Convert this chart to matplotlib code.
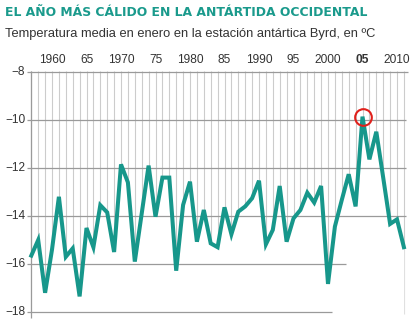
import matplotlib
matplotlib.use("Agg")
import matplotlib.pyplot as plt
import numpy as np

years = list(range(1957, 2012))
temps = [-15.65, -15.0, -17.2, -15.4, -13.2, -15.7, -15.35, -17.35, -14.5, -15.3,
         -13.55, -13.85, -15.5, -11.85, -12.6, -15.9, -13.9, -11.9, -14.03, -12.4,
         -12.4, -16.28, -13.54, -12.57, -15.07, -13.75, -15.14, -15.3, -13.64, -14.76,
         -13.82, -13.6, -13.26, -12.53, -15.18, -14.58, -12.75, -15.07, -14.1, -13.75,
         -13.03, -13.44, -12.75, -16.83, -14.44, -13.33, -12.26, -13.6, -9.86, -11.64,
         -10.49, -12.4, -14.33, -14.14, -15.3]
tick_years = [1960, 1965, 1970, 1975, 1980, 1985, 1990, 1995, 2000, 2005, 2010]
tick_labels = ["1960", "65", "1970", "75", "1980", "85", "1990", "95", "2000", "05", "2010"]
y_ticks = [-8, -10, -12, -14, -16, -18]
y_labels = ["\u22128", "\u221210", "\u221212", "\u221214", "\u221216", "\u221218"]
highlight_year = 2005

# grid line right ends (years) per level
hline_ends = {-8: 2011.6, -10: 2011.3, -12: 2011.3, -14: 2011.3, -16: 2002.6, -18: 2000.6}

W, H = 414, 325
fig = plt.figure(figsize=(W / 100, H / 100), dpi=100)

# pixel geometry
px_per_year = 6.9
x1960 = 52
ax_left_px, ax_right_px = 22, 412
ax_top_px, ax_bot_px = 62, 320
ypx_m8 = 72
px_per_deg = 24

xmin = 1960 + (ax_left_px - x1960) / px_per_year
xmax = 1960 + (ax_right_px - x1960) / px_per_year
ymax = -8 + (ypx_m8 - ax_top_px) / px_per_deg
ymin = -8 - (ax_bot_px - ypx_m8) / px_per_deg

ax = fig.add_axes([ax_left_px / W, (H - ax_bot_px) / H,
                   (ax_right_px - ax_left_px) / W, (ax_bot_px - ax_top_px) / H])
ax.set_xlim(xmin, xmax)
ax.set_ylim(ymin, ymax)
ax.axis("off")

teal = "#17978b"

# vertical grid (one per year)
ax.vlines(years, -18.1, -7.95, color="#cccccc", lw=0.8, zorder=1)
# white fill below line hides vertical grid
ax.fill_between(years, temps, ymin, color="white", zorder=2, lw=0)
# horizontal grid
for lvl in y_ticks:
    ax.hlines(lvl, 1956.4, hline_ends[lvl], color="#9a9a9a", lw=0.9, zorder=3)
# left axis line
ax.vlines(years[0], -18.25, -7.95, color="#9a9a9a", lw=0.9, zorder=3)

# data line
ax.plot(years, temps, color=teal, lw=2.9, solid_joinstyle="miter", zorder=4)

# highlight circle
hv = temps[years.index(highlight_year)]
ax.plot([highlight_year], [hv], marker="o", ms=12, mfc="none", mec="#e0201b", mew=1.5, zorder=5)

# tick labels
for ty, tl in zip(tick_years, tick_labels):
    ax.text(ty, -8 + 12 / px_per_deg, tl, ha="center", va="center",
            fontsize=8.6, color="#333333", family="Liberation Sans",
            fontweight="bold" if ty == highlight_year else "normal")
for yv, yl in zip(y_ticks, y_labels):
    ax.text(1956.1, yv, yl, ha="right", va="center", fontsize=8.6,
            color="#333333", family="Liberation Sans")

fig.text(5 / W, 1 - 13 / H, "EL AÑO MÁS CÁLIDO EN LA ANTÁRTIDA OCCIDENTAL",
         ha="left", va="center", fontsize=8.9, fontweight="bold", color="#1a9a8c",
         family="DejaVu Sans")
fig.text(5 / W, 1 - 34 / H, "Temperatura media en enero en la estación antártica Byrd, en ºC",
         ha="left", va="center", fontsize=9.25, color="#333333", family="Liberation Sans")

fig.savefig("out.png", dpi=100)
